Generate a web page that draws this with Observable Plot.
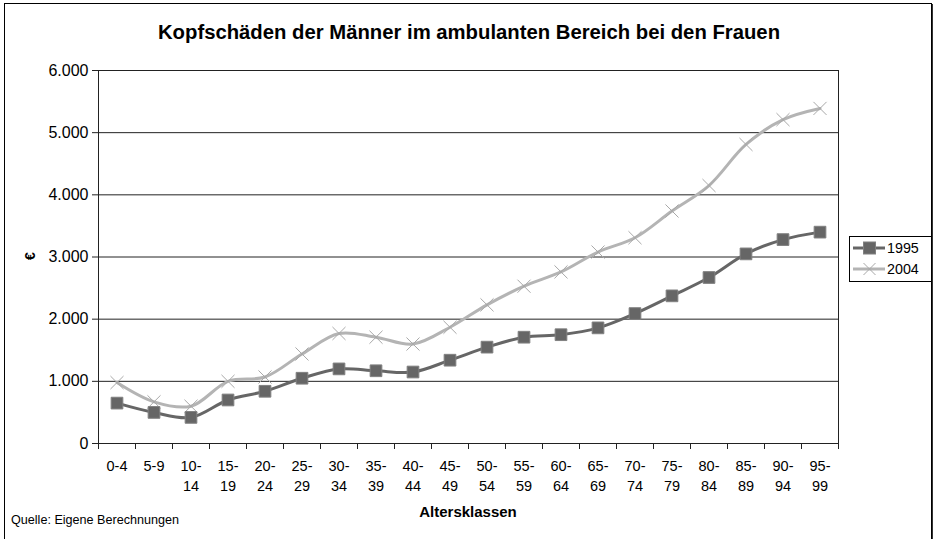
<!DOCTYPE html>
<html>
<head>
<meta charset="utf-8">
<script src="https://cdn.jsdelivr.net/npm/d3@7"></script>
<script src="https://cdn.jsdelivr.net/npm/@observablehq/plot@0.6"></script>
<style>
  html, body { margin: 0; padding: 0; background: #fff; overflow: hidden; }
  #wrap { position: relative; width: 936px; height: 539px; font-family: "Liberation Sans", Arial, sans-serif; color: #000; }
  #wrap svg.plot { position: absolute; left: 0; top: 0; }
  #border { position: absolute; left: 4px; top: 3px; width: 928px; height: 560px; border: 1px solid #000; box-shadow: 1px 1px 0 #333; box-sizing: border-box; }
  #title { position: absolute; left: 0; width: 938px; top: 20px; text-align: center; font-weight: bold; font-size: 20.3px; line-height: 24px; }
  #xlabel { position: absolute; left: 0; width: 936px; top: 503px; text-align: center; font-weight: bold; font-size: 15px; line-height: 17px; }
  #ylabel { position: absolute; left: 23px; top: 248px; font-weight: bold; font-size: 14px; transform: rotate(-90deg); transform-origin: center; width: 14px; text-align: center; }
  #caption { position: absolute; left: 11px; top: 513px; font-size: 12.6px; line-height: 14px; }
  #legend { position: absolute; left: 849px; top: 236px; width: 83px; height: 46px; border: 1px solid #000; box-sizing: border-box; background: #fff; }
</style>
</head>
<body>
<div id="wrap">
  <div id="border"></div>
  <div id="chart"></div>
  <div id="title">Kopfschäden der Männer im ambulanten Bereich bei den Frauen</div>
  <div id="ylabel">€</div>
  <div id="xlabel">Altersklassen</div>
  <div id="caption">Quelle: Eigene Berechnungen</div>
  <div id="legend"></div>
</div>
<script>
const ages = ["0-4","5-9","10-14","15-19","20-24","25-29","30-34","35-39","40-44","45-49",
              "50-54","55-59","60-64","65-69","70-74","75-79","80-84","85-89","90-94","95-99"];
const v1995 = [650,500,420,700,840,1050,1200,1170,1150,1340,1550,1710,1750,1860,2090,2375,2670,3050,3280,3400];
const v2004 = [980,670,600,1000,1070,1440,1770,1710,1600,1870,2230,2530,2760,3080,3310,3740,4150,4810,5210,5390];
const yTicks = [0,1000,2000,3000,4000,5000,6000];
const seriesNames = ["1995","2004"];

const idx = ages.map((_, i) => i);
const bounds = d3.range(ages.length + 1).map(i => i - 0.5);
const d1995 = ages.map((a, i) => ({i, v: v1995[i]}));
const d2004 = ages.map((a, i) => ({i, v: v2004[i]}));
const fmt = d => d === 0 ? "0" : d3.format(",")(d).replace(/,/g, ".");
const xLabel = i => {
  const a = ages[i];
  const p = a.split("-");
  return (p[0].length > 1) ? p[0] + "-\n" + p[1] : a;
};

const c1995 = "#666666", c2004 = "#b4b4b4";

const chart = Plot.plot({
  width: 936,
  height: 539,
  marginLeft: 98,
  marginRight: 98,
  marginTop: 70,
  marginBottom: 96,
  style: { fontFamily: "Liberation Sans, Arial, sans-serif", fontSize: "14px", color: "#000", background: "transparent", overflow: "visible" },
  x: { type: "linear", domain: [-0.5, ages.length - 0.5] },
  y: { domain: [0, 6000] },
  marks: [
    Plot.ruleY(yTicks, { stroke: "#222", strokeWidth: 1 }),
    Plot.frame({ stroke: "#222", strokeWidth: 1 }),
    Plot.axisY(yTicks, { tickSize: 6, tickPadding: 4, tickFormat: fmt, fontSize: 16, stroke: "#222", label: null }),
    Plot.axisX(bounds, { tickSize: 6, tickFormat: () => "", stroke: "#222", label: null }),
    Plot.axisX(idx, { tickSize: 0, tickPadding: 14, tickFormat: xLabel, fontSize: 14.5, lineHeight: 1.34, label: null }),
    Plot.line(d2004, { x: "i", y: "v", stroke: c2004, strokeWidth: 3, curve: "catmull-rom" }),
    Plot.dot(d2004, { x: "i", y: "v", symbol: "times", r: 6, stroke: "#a8a8a8", strokeWidth: 1 }),
    Plot.line(d1995, { x: "i", y: "v", stroke: c1995, strokeWidth: 3, curve: "catmull-rom" }),
    Plot.dot(d1995, { x: "i", y: "v", symbol: "square", r: 6.6, fill: c1995, stroke: "#808080", strokeWidth: 1 })
  ]
});
chart.classList.add("plot");
document.getElementById("chart").appendChild(chart);

// legend
const ns = "http://www.w3.org/2000/svg";
const lg = document.createElementNS(ns, "svg");
lg.setAttribute("width", 81); lg.setAttribute("height", 44);
lg.style.fontFamily = "Liberation Sans, Arial, sans-serif";
seriesNames.forEach((name, k) => {
  const y = 11 + k * 21;
  const col = k === 0 ? c1995 : c2004;
  const line = document.createElementNS(ns, "line");
  line.setAttribute("x1", 3); line.setAttribute("x2", 35); line.setAttribute("y1", y); line.setAttribute("y2", y);
  line.setAttribute("stroke", col); line.setAttribute("stroke-width", 3);
  lg.appendChild(line);
  if (k === 0) {
    const r = document.createElementNS(ns, "rect");
    r.setAttribute("x", 13.5); r.setAttribute("y", y - 6); r.setAttribute("width", 12); r.setAttribute("height", 12);
    r.setAttribute("fill", c1995); r.setAttribute("stroke", "#808080");
    lg.appendChild(r);
  } else {
    const p = document.createElementNS(ns, "path");
    p.setAttribute("d", `M${13.5},${y-6}L${25.5},${y+6}M${13.5},${y+6}L${25.5},${y-6}`);
    p.setAttribute("stroke", "#a8a8a8"); p.setAttribute("stroke-width", 1);
    lg.appendChild(p);
  }
  const t = document.createElementNS(ns, "text");
  t.setAttribute("x", 37); t.setAttribute("y", y + 5); t.setAttribute("font-size", 14.3);
  t.textContent = name;
  lg.appendChild(t);
});
document.getElementById("legend").appendChild(lg);
</script>
</body>
</html>
